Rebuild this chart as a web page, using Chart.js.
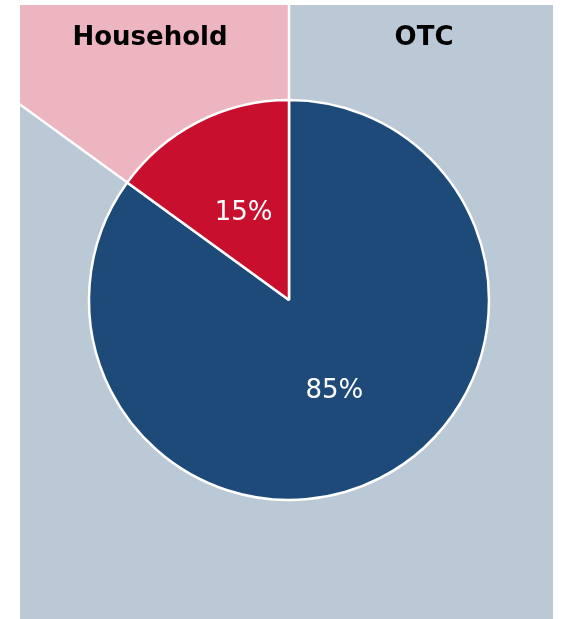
<!DOCTYPE html>
<html>
<head>
<meta charset="utf-8">
<title>OTC vs Household</title>
<script src="https://cdn.jsdelivr.net/npm/chart.js@4.4.0/dist/chart.umd.min.js"></script>
<style>
  html, body { margin: 0; padding: 0; background: #fff; }
  #wrap { width: 562px; height: 619px; position: relative; }
</style>
</head>
<body>
<div id="wrap"><canvas id="myChart"></canvas></div>
<script>
"use strict";

const labels = ["OTC", "Household"];
const shares = [85, 15];
const sliceColors = ["#1e4a7a", "#c8102e"];
const panelColors = ["#bbc8d5", "#edb5bf"];
const headerX = [424, 150];

// shaded panel behind the pie, split along the slice edges, with headers
const panelPlugin = {
  id: "panel",
  beforeDatasetsDraw(chart) {
    const ctx = chart.ctx;
    const arcs = chart.getDatasetMeta(0).data;
    const box = { left: 20, top: 5, right: 553, bottom: 619 };
    const far = 2000;

    ctx.save();
    ctx.beginPath();
    ctx.rect(box.left, box.top, box.right - box.left, box.bottom - box.top);
    ctx.clip();

    arcs.forEach((arc, i) => {
      ctx.beginPath();
      ctx.moveTo(arc.x, arc.y);
      ctx.arc(arc.x, arc.y, far, arc.startAngle, arc.endAngle);
      ctx.closePath();
      ctx.fillStyle = panelColors[i];
      ctx.fill();
    });

    ctx.strokeStyle = "#ffffff";
    ctx.lineWidth = 2.5;
    arcs.forEach((arc) => {
      ctx.beginPath();
      ctx.moveTo(arc.x, arc.y);
      ctx.lineTo(arc.x + far * Math.cos(arc.startAngle), arc.y + far * Math.sin(arc.startAngle));
      ctx.stroke();
    });
    ctx.restore();

    ctx.save();
    ctx.font = "bold 26px 'DejaVu Sans'";
    ctx.fillStyle = "#000000";
    ctx.textAlign = "center";
    ctx.textBaseline = "alphabetic";
    labels.forEach((name, i) => {
      ctx.fillText(name, headerX[i], 45);
    });
    ctx.restore();
  },
  afterDatasetsDraw(chart) {
    const ctx = chart.ctx;
    const arcs = chart.getDatasetMeta(0).data;
    ctx.save();
    ctx.font = "26px 'DejaVu Sans'";
    ctx.fillStyle = "#ffffff";
    ctx.textAlign = "center";
    ctx.textBaseline = "middle";
    arcs.forEach((arc, i) => {
      const pos = arc.tooltipPosition();
      ctx.fillText(shares[i] + "%", pos.x, pos.y + 2);
    });
    ctx.restore();
  },
};

const ctx = document.getElementById("myChart").getContext("2d");
const myChart = new Chart(ctx, {
  type: "pie",
  data: {
    labels: labels,
    datasets: [
      {
        data: shares,
        backgroundColor: sliceColors,
        borderColor: "#ffffff",
        borderWidth: 2.5,
        radius: 200,
      },
    ],
  },
  options: {
    responsive: true,
    maintainAspectRatio: false,
    animation: false,
    layout: {
      padding: { left: 16, right: 0, top: 0, bottom: 19 },
    },
    plugins: {
      legend: { display: false },
      tooltip: { enabled: false },
    },
  },
  plugins: [panelPlugin],
});
</script>
</body>
</html>
